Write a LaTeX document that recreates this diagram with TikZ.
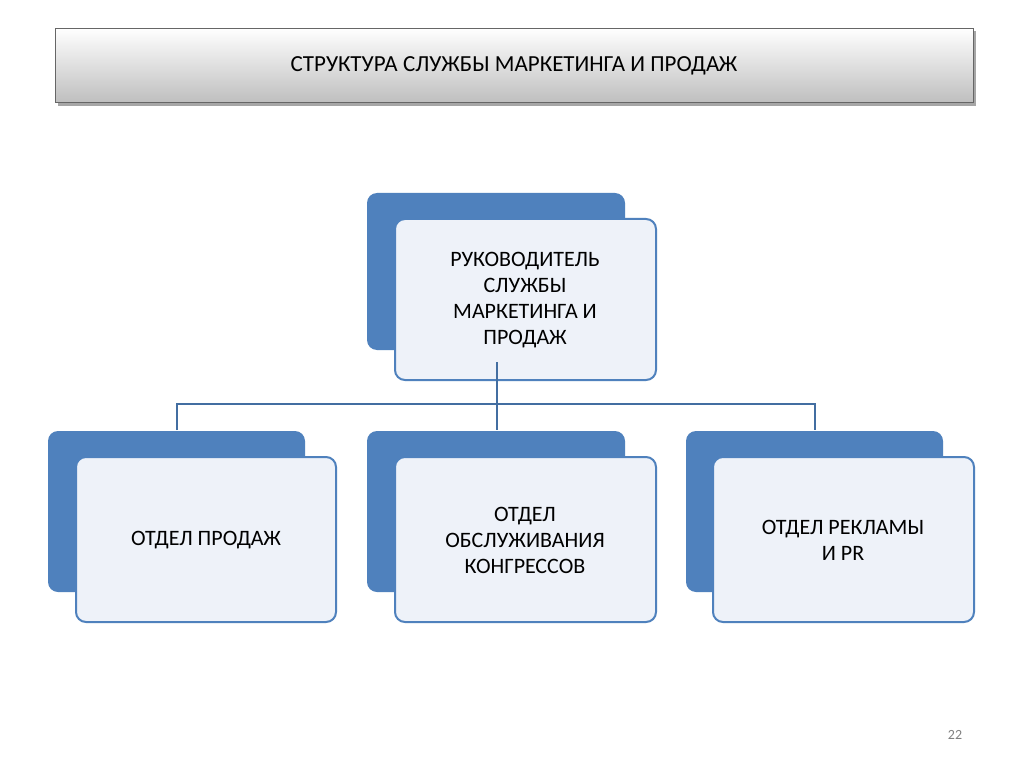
\documentclass[tikz,border=0pt]{standalone}
\usepackage{fontspec}
\setmainfont{Carlito}
\usetikzlibrary{shadows}
\definecolor{bblue}{HTML}{4F81BD}
\definecolor{lfill}{HTML}{EEF2F9}
\tikzset{
 back/.style={fill=bblue,draw=none,rounded corners=10pt},
 front/.style={fill=lfill,draw=bblue,line width=2pt,rounded corners=10pt},
 lbl/.style={font=\fontsize{22}{26}\selectfont,align=center,text=black},
 conn/.style={draw=bblue!85!black,line width=1.6pt}
}
\begin{document}
\begin{tikzpicture}[x=1pt,y=-1pt]
\useasboundingbox (0,0) rectangle (1024,767);
\fill[white] (0,0) rectangle (1024,767);
% title
\fill[black!35] (58,31) rectangle (976,106);
\shade[top color=white,bottom color=black!25,draw=black!60] (55,28) rectangle (973,102);
\node[lbl,font=\fontsize{23}{27}\selectfont] (title) at (514,66) {СТРУКТУРА СЛУЖБЫ  МАРКЕТИНГА И ПРОДАЖ};
% connectors
\coordinate (h1) at (177,404);
\coordinate (h2) at (497,404);
\coordinate (h3) at (815,404);
% top
\fill[back] (367,193) rectangle (625,350);
\filldraw[front] (395,219) rectangle (656,380);
\node[lbl] (top) at (525,300) {РУКОВОДИТЕЛЬ\\СЛУЖБЫ\\МАРКЕТИНГА И\\ПРОДАЖ};
\draw[conn] (497,362) -- (h2);
\draw[conn] (177,430) -- (h1) -- (h3) -- (815,430);
\draw[conn] (h2) -- (497,430);
% bottom
\fill[back] (48,431) rectangle (305,592);
\filldraw[front] (76,457) rectangle (336,622);
\node[lbl] (b1) at (206,540) {ОТДЕЛ ПРОДАЖ};
\fill[back] (367,431) rectangle (625,592);
\filldraw[front] (395,457) rectangle (656,622);
\node[lbl] (b2) at (525,540) {ОТДЕЛ\\ОБСЛУЖИВАНИЯ\\КОНГРЕССОВ};
\fill[back] (686,431) rectangle (943,592);
\filldraw[front] (713,457) rectangle (974,622);
\node[lbl] (b3) at (843,540) {ОТДЕЛ РЕКЛАМЫ\\И PR};
\node[text=black!50,font=\fontsize{14}{16}\selectfont] (pg) at (955,735) {22};
\end{tikzpicture}
\end{document}
